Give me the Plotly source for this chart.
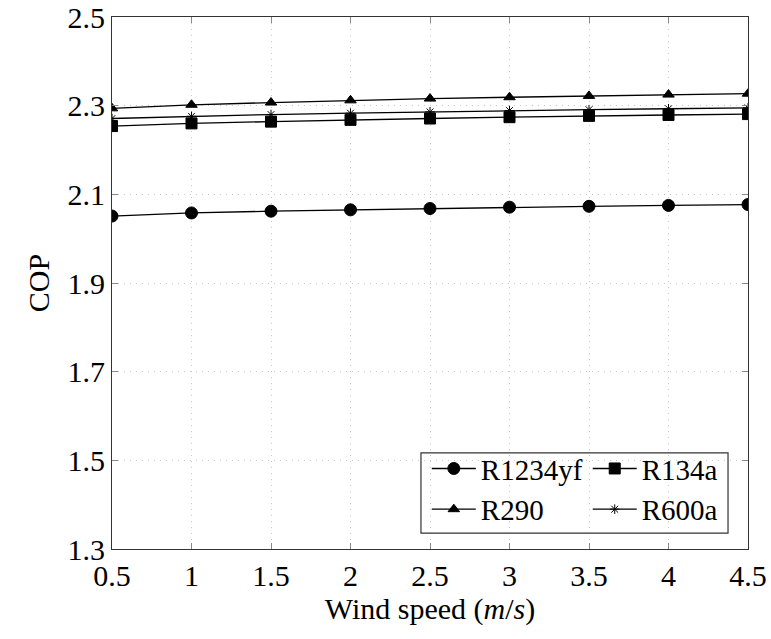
import plotly.graph_objects as go

wind = [0.5, 1.0, 1.5, 2.0, 2.5, 3.0, 3.5, 4.0, 4.5]
r1234yf = [2.051, 2.058, 2.062, 2.065, 2.068, 2.071, 2.073, 2.075, 2.077]
r134a = [2.254, 2.260, 2.264, 2.268, 2.271, 2.274, 2.277, 2.279, 2.281]
r290 = [2.294, 2.302, 2.307, 2.312, 2.316, 2.319, 2.322, 2.325, 2.327]
r600a = [2.271, 2.276, 2.280, 2.283, 2.286, 2.289, 2.291, 2.293, 2.295]

x_ticks = [0.5, 1, 1.5, 2, 2.5, 3, 3.5, 4, 4.5]
x_ticklabels = ["0.5", "1", "1.5", "2", "2.5", "3", "3.5", "4", "4.5"]
y_ticks = [1.3, 1.5, 1.7, 1.9, 2.1, 2.3, 2.5]
y_ticklabels = ["1.3", "1.5", "1.7", "1.9", "2.1", "2.3", "2.5"]

FONT = "Liberation Serif"

fig = go.Figure()
series = [
    ("R1234yf", r1234yf, "circle", 12, "legend"),
    ("R134a", r134a, "square", 11, "legend2"),
    ("R290", r290, "triangle-up", 10, "legend"),
    ("R600a", r600a, "asterisk-open", 8, "legend2"),
]
for name, vals, sym, size, leg in series:
    fig.add_trace(go.Scatter(
        x=wind, y=vals, name=name, mode="lines+markers",
        line=dict(color="black", width=1.3),
        marker=dict(symbol=sym, size=size, color="black",
                    line=dict(color="black", width=1)),
        legend=leg,
    ))

axis_common = dict(
    showline=True, linecolor="#333333", linewidth=1.2, mirror="ticks",
    ticks="inside", ticklen=6, tickcolor="#888888", tickwidth=1,
    showgrid=True, gridcolor="#c8c8c8", griddash="1px,5px", gridwidth=1,
    zeroline=False, automargin=False,
    tickfont=dict(family=FONT, size=30, color="black"),
)

leg_common = dict(xanchor="left", yanchor="top", bgcolor="rgba(0,0,0,0)",
                  borderwidth=0, font=dict(family=FONT, size=29),
                  itemwidth=44)

fig.update_layout(
    width=771, height=639,
    margin=dict(l=112, r=23, t=17, b=90),
    plot_bgcolor="white", paper_bgcolor="white",
    font=dict(family=FONT, color="black"),
    xaxis=dict(range=[0.5, 4.5], tickvals=x_ticks, ticktext=x_ticklabels,
               title=dict(text="Wind speed (<i>m</i>/<i>s</i>)",
                          font=dict(family=FONT, size=30), standoff=4),
               **axis_common),
    yaxis=dict(range=[1.3, 2.5], tickvals=y_ticks, ticktext=y_ticklabels,
               title=dict(text="COP", font=dict(family=FONT, size=30), standoff=8),
               **axis_common),
    legend=dict(x=0.495, y=0.199, **leg_common),
    legend2=dict(x=0.748, y=0.199, **leg_common),
    shapes=[dict(type="rect", xref="paper", yref="paper",
                 x0=0.4858, x1=0.9686, y0=0.030, y1=0.1805,
                 line=dict(color="#333333", width=1.2),
                 fillcolor="rgba(0,0,0,0)", layer="above")],
    showlegend=True,
)

fig.write_html("out.html")
